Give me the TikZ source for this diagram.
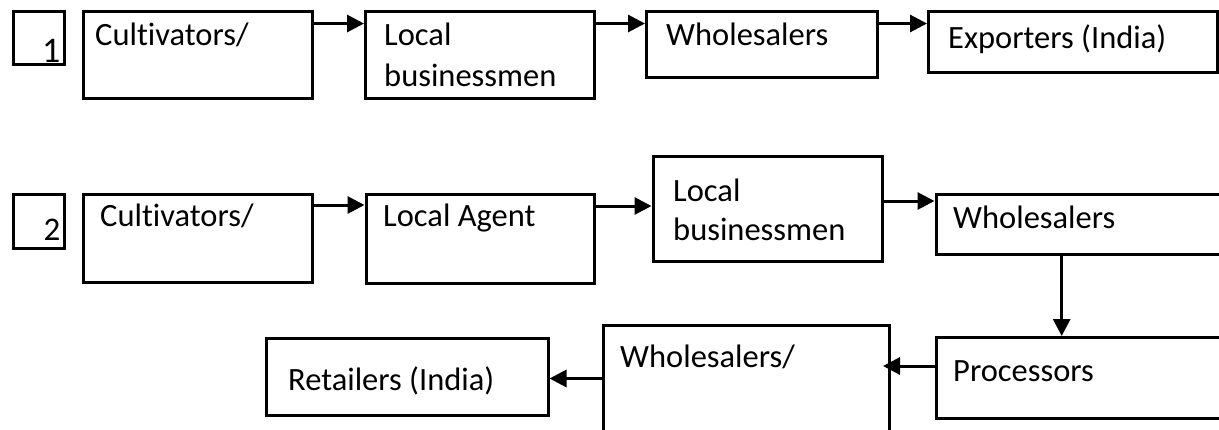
\documentclass[tikz,border=0pt]{standalone}
\usepackage{fontspec}
\setmainfont[Ligatures={NoCommon}]{Carlito}
\usetikzlibrary{arrows.meta,fit}
\begin{document}
\begin{tikzpicture}[x=1pt,y=-1pt,
  box/.style={draw, line width=3pt, inner sep=0pt, rectangle},
  txt/.style={anchor=base west, inner sep=0pt, align=left, font=\fontsize{32.5}{38.5}\selectfont},
  num/.style={anchor=base east, inner sep=0pt},
  arr/.style={line width=3pt, -{Triangle[length=17pt,width=17pt]}}]
\useasboundingbox (0,0) rectangle (1219,429);
% row 1 boxes
\node[box, fit={(13,11) (64,64.5)}] (n1) {};
\node[box, fit={(83.5,11) (312.5,98.5)}] (c1) {};
\node[box, fit={(365.5,11) (594,98.5)}] (lb1) {};
\node[box, fit={(646.5,11) (877.5,77.5)}] (w1) {};
\node[box, fit={(928.5,11) (1217,72.5)}] (e1) {};
% row 2 boxes
\node[box, fit={(13,194) (64,248.5)}] (n2) {};
\node[box, fit={(83.5,194) (312.5,282.5)}] (c2) {};
\node[box, fit={(366,194) (594,283)}] (la) {};
\node[box, fit={(653,156.5) (882.5,261.5)}] (lb2) {};
\node[box, fit={(936,194) (1224,254.5)}] (w2) {};
\node[box, fit={(936,337.5) (1224,418)}] (p) {};
\node[box, fit={(603,325) (889.5,436)}] (ws) {};
\node[box, fit={(266.5,338) (548,415.5)}] (r) {};
% texts
\node[num, font=\fontsize{36}{42}\selectfont] (n1t) at (60.5,62) {1};
\node[num, font=\fontsize{33}{39}\selectfont] (n2t) at (60.5,240) {2};
\node[txt] (c1t) at (95,45.5) {Cultivators/};
\node[txt, font=\fontsize{32.5}{41}\selectfont] (lb1t) at (384,86.5) {Local\\businessmen};
\node[txt] (w1t) at (666,45) {Wholesalers};
\node[txt] (e1t) at (948,48) {Exporters (India)};
\node[txt] (c2t) at (100,226.5) {Cultivators/};
\node[txt] (lat) at (383,226.7) {Local Agent};
\node[txt] (lb2t) at (673,240) {Local\\businessmen};
\node[txt] (w2t) at (953,228.3) {Wholesalers};
\node[txt] (pt) at (953,381.7) {Processors};
\node[txt] (wst) at (620,367) {Wholesalers/};
\node[txt] (rt) at (288,390) {Retailers (India)};
% arrow levels
\coordinate (y1) at (0,23.5);
\coordinate (y2) at (0,205);
\coordinate (y3) at (0,206);
\coordinate (y4) at (0,201);
\coordinate (y5) at (0,366);
\coordinate (y6) at (0,378.5);
\coordinate (vx) at (1061.7,0);
% arrows
\draw[arr] (c1.east |- y1) -- (lb1.west |- y1);
\draw[arr] (lb1.east |- y1) -- (w1.west |- y1);
\draw[arr] (w1.east |- y1) -- (e1.west |- y1);
\draw[arr] (c2.east |- y2) -- (la.west |- y2);
\draw[arr] (la.east |- y3) -- (lb2.west |- y3);
\draw[arr] (lb2.east |- y4) -- (w2.west |- y4);
\draw[arr] (w2.south -| vx) -- (p.north -| vx);
\draw[arr, shorten >=-8pt] (p.west |- y5) -- (ws.east |- y5);
\draw[arr] (ws.west |- y6) -- (r.east |- y6);
\end{tikzpicture}
\end{document}
